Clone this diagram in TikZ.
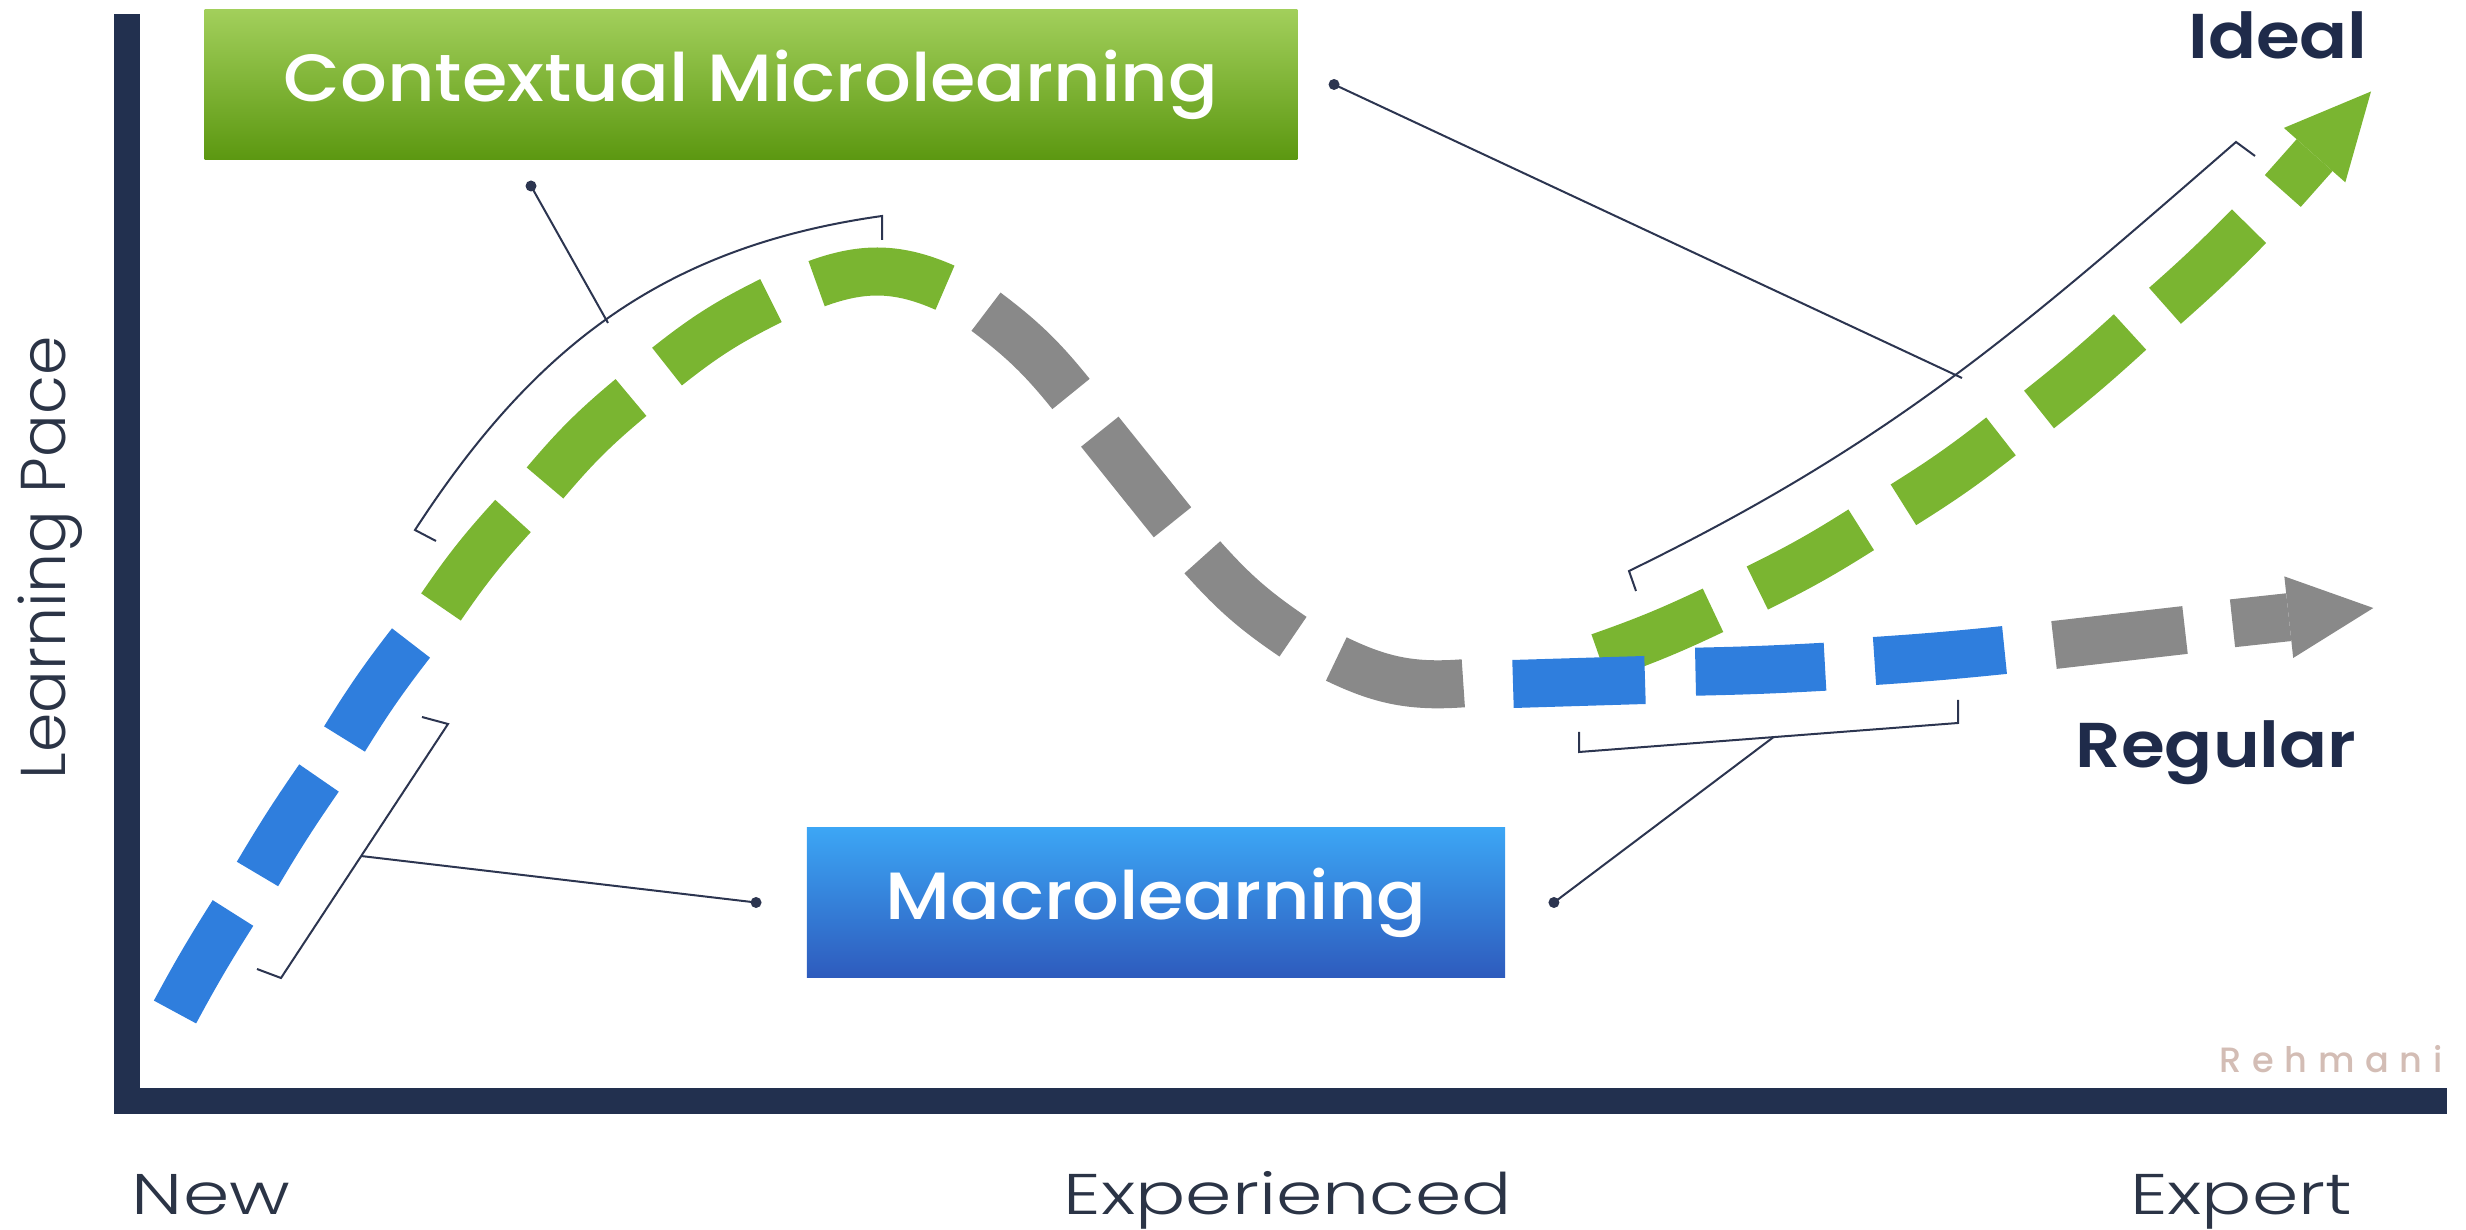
\documentclass[tikz,border=0pt]{standalone}
\usepackage{fontspec}
\setmainfont{Poppins}
\newfontfamily\lightfont{Poppins Light}[FakeStretch=1.3]
\newfontfamily\pacefont{Poppins Light}
\newfontfamily\mediumfont{Poppins Medium}[FakeStretch=1.1]
\newfontfamily\semifont{Poppins SemiBold}[FakeStretch=1.12]
\newfontfamily\markfont{Poppins Medium}[LetterSpace=30]
\usetikzlibrary{arrows.meta,positioning}

\definecolor{axisnavy}{HTML}{22304F}
\definecolor{textnavy}{HTML}{1F2B4A}
\definecolor{labelcol}{HTML}{2B3446}
\definecolor{leadercol}{HTML}{2C3550}
\definecolor{markcol}{HTML}{D3BDB5}
\definecolor{segblue}{HTML}{2F7EDD}
\definecolor{seggreen}{HTML}{7AB531}
\definecolor{seggrey}{HTML}{898989}
\definecolor{boxgreenlight}{HTML}{A2CF5B}
\definecolor{boxgreendark}{HTML}{5C9811}
\definecolor{boxbluelight}{HTML}{3CA6F5}
\definecolor{boxbluedark}{HTML}{2E5BBD}

\begin{document}
\begin{tikzpicture}[x=0.01cm,y=0.01cm,
  seg/.style={line width=0.48cm},
  headtip/.style={-{Triangle[length=0.85cm,width=0.82cm,line width=0pt]}},
  axisline/.style={draw=axisnavy,line width=0.25cm},
  leader/.style={draw=leadercol,line width=0.02cm},
  box/.style={minimum height=1.49cm,inner sep=0pt,text=white,font=\mediumfont\fontsize{19}{21}\selectfont},
  axislabel/.style={text=labelcol,inner sep=0pt,anchor=base,font=\lightfont\fontsize{16.3}{18}\selectfont},
  endlabel/.style={text=textnavy,inner sep=0pt,anchor=base,font=\semifont\fontsize{18}{20}\selectfont}]
\useasboundingbox (0,0) rectangle (2466,1230);

\draw[axisline] (127,1216) -- (127,129) -- (2447,129);

\foreach \xa/\ya/\xb/\yb/\bnd/\col in {
  175/218/233/317/2/segblue, 257.5/356/319/452/2/segblue, 344.5/491/411/587/3/segblue,
  441/623/513/714/4/seggreen, 545/747/631/832.5/5/seggreen, 667/863.4/771/929.4/6/seggreen,
  816.6/946.3/945/942.3/22/seggreen,
  986/918.3/1071/836/7/seggrey, 1099.8/798.3/1172.5/707.7/0/seggrey,
  1202.3/672.7/1293/593.3/-7/seggrey, 1336.3/571/1463.3/546.7/-15/seggrey,
  1599.4/573/1713/619.7/-3/seggreen, 1757.3/642/1861.2/700.2/-3/seggreen,
  1903.4/725.2/2001/793.6/-3/seggreen, 2039/820.5/2130/898/-2/seggreen,
  2165/924.2/2249/1003.8/-2/seggreen,
  1513/546/1645/550/0/segblue, 1695.5/558.3/1825/563.3/-1/segblue,
  1874.5/569/2004.5/580/-1/segblue, 2054/585/2185/600/0/seggrey}
  \draw[seg,draw=\col] (\xa,\ya) to[bend left=\bnd] (\xb,\yb);
\draw[seg,draw=seggreen,headtip] (2282.8,1039) -- (2371,1138.5);
\draw[seg,draw=seggrey,headtip] (2232.5,606.7) -- (2373.3,622);

\node[box,top color=boxgreenlight,bottom color=boxgreendark,minimum width=10.92cm] (micro) at (751,1145.5) {Contextual Microlearning};
\node[box,top color=boxbluelight,bottom color=boxbluedark,minimum width=6.98cm] (macro) at (1156,327.5) {Macrolearning};

\coordinate (micdot) at (531,1044);
\coordinate[right=0.36cm of micro.east] (idedot);
\coordinate[left=0.5cm of macro.west] (macdot);
\coordinate[right=0.48cm of macro.east] (regdot);
\coordinate (micbr) at (608,907);
\coordinate (idebr) at (1962,852);
\coordinate (macbr) at (361,374);
\coordinate (regbr) at (1773,492.5);

\draw[leader] (436,689) -- (415,700) to[out=57,in=188] (882,1014) -- (882,990);
\draw[leader] (1636,639) -- (1629,659) to[out=26,in=221] (2236,1088) -- (2255,1074);
\draw[leader] (422,513) -- (448,506) -- (281,252) -- (257,261);
\draw[leader] (1579,498) -- (1579,478) -- (1958,507) -- (1958,530);

\draw[leader] (micdot) -- (micbr);
\draw[leader] (idedot) -- (idebr);
\draw[leader] (macdot) -- (macbr);
\draw[leader] (regdot) -- (regbr);
\foreach \d in {micdot,idedot,macdot,regdot}
  \fill[leadercol] (\d) circle[radius=0.055cm];

\node[axislabel] (new) at (211,15) {New};
\node[axislabel] (exper) at (1288,15) {Experienced};
\node[axislabel] (expert) at (2241,15) {Expert};
\node[text=labelcol,inner sep=0pt,anchor=base,rotate=90,font=\pacefont\fontsize{18}{20}\selectfont] (pace) at (65,672) {Learning Pace};
\node[endlabel] (ideal) at (2278,1171) {Ideal};
\node[endlabel] (regular) at (2216,462) {Regular};
\node[text=markcol,inner sep=0pt,anchor=base east,font=\markfont\fontsize{10}{12}\selectfont] (mark) at (2443,157) {Rehmani};
\end{tikzpicture}
\end{document}
